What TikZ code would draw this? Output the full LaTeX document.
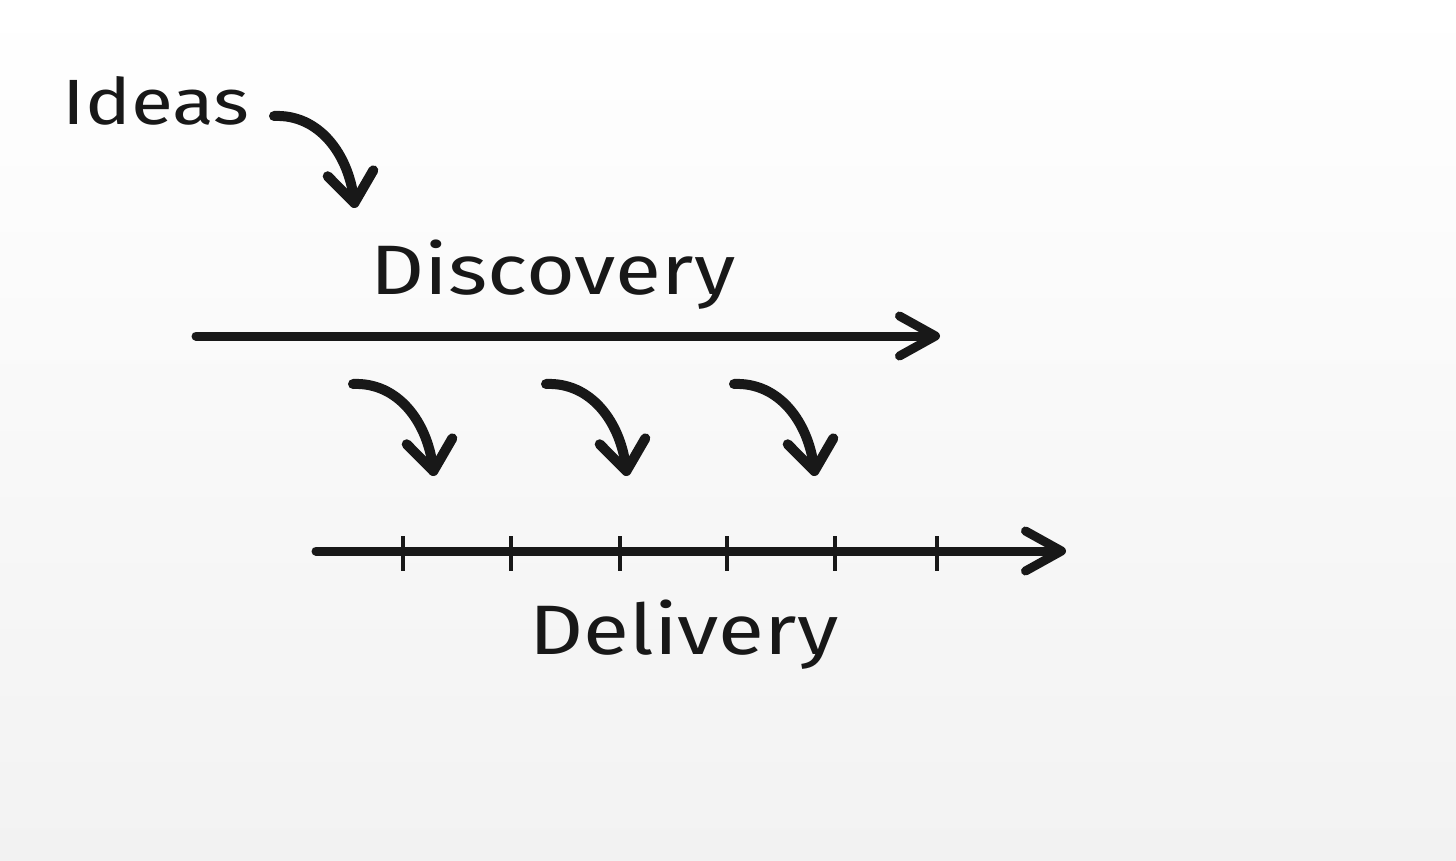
\documentclass[tikz,border=0pt]{standalone}
\usepackage{fontspec}
\setmainfont{Fira Sans}[FakeStretch=1.2]
\usetikzlibrary{arrows.meta}
\definecolor{ink}{RGB}{24,24,24}
\definecolor{bgbot}{RGB}{242,242,242}
\tikzset{
  ink line/.style={draw=ink, line width=9pt, line cap=round},
  chevron/.style={-{Straight Barb[length=36pt,width=40pt,line width=9pt,round]}},
  curly/.style={draw=ink, line width=10pt, line cap=round, -{Straight Barb[length=30pt,width=46pt,line width=10pt,round]}},
  tick/.style={draw=ink, line width=4.5pt},
  label/.style={text=ink, inner sep=0pt, anchor=base}
}
\begin{document}
\begin{tikzpicture}[x=1pt,y=-1pt]
\shade[top color=white, bottom color=bgbot] (0,0) rectangle (1456,861);
\useasboundingbox (0,0) rectangle (1456,861);
% labels
\node[label, font=\fontsize{64}{64}\selectfont] (ideas) at (156,125) {Ideas};
\node[label, font=\fontsize{70}{70}\selectfont] (disc) at (553,294) {Discovery};
\node[label, font=\fontsize{70}{70}\selectfont] (deliv) at (684,654) {Delivery};
% discovery line
\coordinate (d0) at (196,336);
\coordinate (d1) at (940,336);
\draw[ink line, chevron] (d0) -- (d1);
% delivery line
\coordinate (l0) at (316,551);
\coordinate (l1) at (1066,551);
\draw[ink line, chevron] (l0) -- (l1);
\foreach \x [count=\i] in {403,511,620,727,835,937}{
  \coordinate (t\i a) at (\x,536);
  \coordinate (t\i b) at (\x,571);
  \draw[tick] (t\i a) -- (t\i b);
}
% curved arrows
\foreach \n/\x/\y in {a/274/116, b/353/384, c/546/384, e/734/384}{
  \coordinate (\n s) at (\x,\y);
  \coordinate (\n e) at (\x+81,\y+92);
  \draw[curly] (\n s) .. controls (\x+45,\y-2) and (\x+74,\y+38) .. (\n e);
}
\end{tikzpicture}
\end{document}
